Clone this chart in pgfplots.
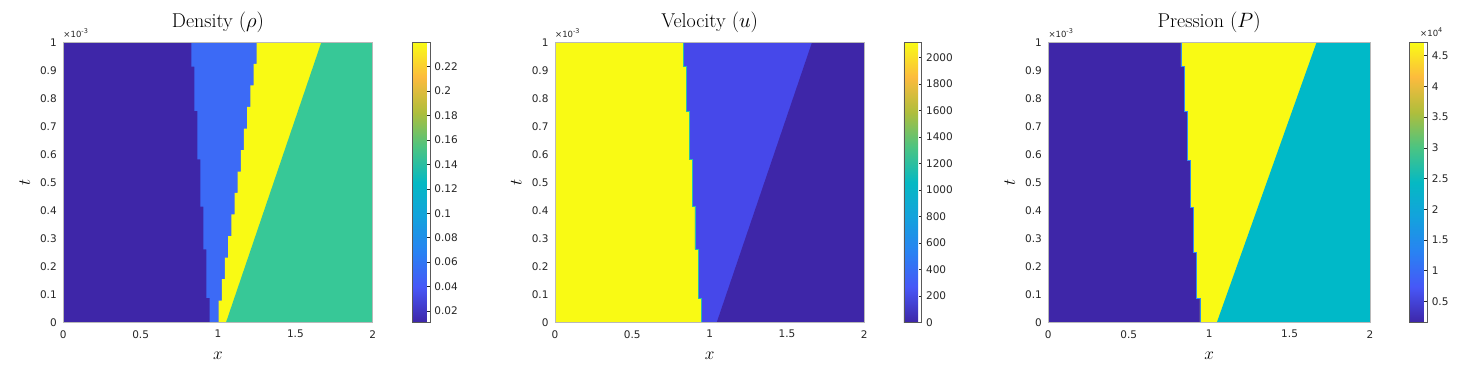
\documentclass[border=0pt]{standalone}
\usepackage{fontspec}
\usepackage{pgfplots}
\pgfplotsset{compat=1.18}
\newfontfamily\dejavu{DejaVu Sans}
\definecolor{pdark}{RGB}{62,38,168}
\definecolor{pdblue}{RGB}{60,106,246}
\definecolor{pvblue}{RGB}{70,72,234}
\definecolor{pyellow}{RGB}{249,250,20}
\definecolor{pgreen}{RGB}{55,200,151}
\definecolor{pcyan}{RGB}{0,185,200}
\definecolor{tickgray}{RGB}{38,38,38}
\definecolor{vline}{RGB}{40,190,170}
\definecolor{pline}{RGB}{50,140,240}
\pgfplotsset{
  colormap={parula}{rgb255=(62,38,168) rgb255=(71,87,247) rgb255=(41,130,243) rgb255=(19,162,221) rgb255=(5,185,195) rgb255=(75,196,130) rgb255=(175,190,60) rgb255=(252,187,61) rgb255=(249,251,21)},
  myaxis/.style={
    scale only axis, height=280pt,
    xmin=0, xmax=2, ymin=0, ymax=1,
    axis on top, clip=false,
    xtick={0,0.5,1,1.5,2}, xticklabels={0,0.5,1,1.5,2},
    ytick={0,0.1,0.2,0.3,0.4,0.5,0.6,0.7,0.8,0.9,1},
    yticklabels={0,0.1,0.2,0.3,0.4,0.5,0.6,0.7,0.8,0.9,1},
    major tick length=0pt,
    tick label style={font=\dejavu\fontsize{10.5}{12}\selectfont, text=tickgray},
    yticklabel style={xshift=-3pt},
    xticklabel style={yshift=-4.5pt},
    axis line style={draw=gray!55, line width=0.5pt},
    title style={at={(axis description cs:0.5,1)}, anchor=base, yshift=9pt, font=\fontsize{20}{22}\selectfont},
    xlabel style={at={(axis description cs:0.5,0)}, anchor=base, yshift=-37.5pt, font=\fontsize{17.5}{19}\selectfont},
    ylabel style={anchor=base, font=\fontsize{17.5}{19}\selectfont},
    colorbar,
    colorbar style={
      at={(parent axis.north east)}, anchor=north west, xshift=31pt,
      width=17.7pt,
      ytick pos=right, yticklabel pos=right,
      tick align=inside, major tick length=3pt,
      tick style={draw=tickgray, line width=0.4pt},
      axis line style={draw=gray!70!black, line width=0.5pt},
      yticklabel style={font=\dejavu\fontsize{10.5}{12}\selectfont, text=tickgray, xshift=1pt},
      scaled y ticks=false,
    },
  },
}
\newcommand{\texp}{\node[anchor=base west, inner sep=0pt, text=tickgray] at (axis description cs:0,1) [yshift=5pt] {\dejavu\fontsize{8.5}{9}\selectfont ×10\raisebox{3.6pt}{\fontsize{6.5}{7}\selectfont -3}};
\draw[gray!40!black, line width=0.6pt] (rel axis cs:0,0) -- (rel axis cs:1,0);}
\begin{document}
\begin{tikzpicture}
\useasboundingbox (-63.3pt,-52.7pt) rectangle (1396.7pt,322.3pt);
% ---------------- Density ----------------
\begin{axis}[myaxis, at={(0pt,0pt)}, anchor=south west, width=309.4pt,
  title={Density $(\rho)$}, xlabel={$x$}, ylabel={$t$},
  ylabel style={at={(axis description cs:-0.1076,0.5)}},
  point meta min=0.0107, point meta max=0.2399,
  colorbar style={ytick={0.02,0.04,0.06,0.08,0.1,0.12,0.14,0.16,0.18,0.2,0.22},
    yticklabels={0.02,0.04,0.06,0.08,0.1,0.12,0.14,0.16,0.18,0.2,0.22}}]
\addplot[fill=pdark, draw=none] coordinates {(0,0)(0,1)(2,1)(2,0)};
\addplot[fill=pdblue, draw=none] coordinates {(0.946,0)(0.946,0.087)(0.925,0.087)(0.925,0.26)(0.905,0.26)(0.905,0.413)(0.886,0.413)(0.886,0.582)(0.867,0.582)(0.867,0.755)(0.848,0.755)(0.848,0.913)(0.828,0.913)(0.828,1)(2,1)(2,0)};
\addplot[fill=pyellow, draw=none] coordinates {(1.004,0)(1.004,0.077)(1.025,0.077)(1.025,0.154)(1.045,0.154)(1.045,0.231)(1.066,0.231)(1.066,0.308)(1.086,0.308)(1.086,0.385)(1.107,0.385)(1.107,0.462)(1.127,0.462)(1.127,0.538)(1.148,0.538)(1.148,0.615)(1.168,0.615)(1.168,0.692)(1.189,0.692)(1.189,0.769)(1.209,0.769)(1.209,0.846)(1.230,0.846)(1.230,0.923)(1.250,0.923)(1.250,1)(2,1)(2,0)};
\addplot[fill=pgreen, draw=none] coordinates {(1.052,0)(1.668,1)(2,1)(2,0)};
\texp
\end{axis}
% ---------------- Velocity ----------------
\begin{axis}[myaxis, at={(491.7pt,0pt)}, anchor=south west, width=309.3pt,
  title={Velocity $(u)$}, xlabel={$x$}, ylabel={$t$},
  ylabel style={at={(axis description cs:-0.1076,0.5)}},
  point meta min=0, point meta max=2115,
  colorbar style={ytick={0,200,400,600,800,1000,1200,1400,1600,1800,2000},
    yticklabels={0,200,400,600,800,1000,1200,1400,1600,1800,2000}}]
\addplot[fill=pyellow, draw=none] coordinates {(0,0)(0,1)(2,1)(2,0)};
\addplot[fill=pvblue, draw=none] coordinates {(0.946,0)(0.946,0.087)(0.925,0.087)(0.925,0.26)(0.905,0.26)(0.905,0.413)(0.886,0.413)(0.886,0.582)(0.867,0.582)(0.867,0.755)(0.848,0.755)(0.848,0.913)(0.828,0.913)(0.828,1)(2,1)(2,0)};
\addplot[draw=vline, line width=0.6pt] coordinates {(0.946,0)(0.946,0.087)(0.925,0.087)(0.925,0.26)(0.905,0.26)(0.905,0.413)(0.886,0.413)(0.886,0.582)(0.867,0.582)(0.867,0.755)(0.848,0.755)(0.848,0.913)(0.828,0.913)(0.828,1)};
\addplot[fill=pdark, draw=none] coordinates {(1.046,0)(1.662,1)(2,1)(2,0)};
\texp
\end{axis}
% ---------------- Pressure ----------------
\begin{axis}[myaxis, at={(985pt,0pt)}, anchor=south west, width=321.7pt,
  title={Pression $(P)$}, xlabel={$x$}, ylabel={$t$},
  ylabel style={at={(axis description cs:-0.1035,0.5)}},
  point meta min=0.157, point meta max=4.718,
  colorbar style={ytick={0.5,1,1.5,2,2.5,3,3.5,4,4.5},
    yticklabels={0.5,1,1.5,2,2.5,3,3.5,4,4.5}}]
\addplot[fill=pdark, draw=none] coordinates {(0,0)(0,1)(2,1)(2,0)};
\addplot[fill=pyellow, draw=none] coordinates {(0.943,0)(0.943,0.087)(0.922,0.087)(0.922,0.25)(0.902,0.25)(0.902,0.41)(0.884,0.41)(0.884,0.58)(0.865,0.58)(0.865,0.752)(0.845,0.752)(0.845,0.913)(0.824,0.913)(0.824,1)(2,1)(2,0)};
\addplot[draw=pline, line width=0.6pt] coordinates {(0.943,0)(0.943,0.087)(0.922,0.087)(0.922,0.25)(0.902,0.25)(0.902,0.41)(0.884,0.41)(0.884,0.58)(0.865,0.58)(0.865,0.752)(0.845,0.752)(0.845,0.913)(0.824,0.913)(0.824,1)};
\addplot[fill=pcyan, draw=none] coordinates {(1.048,0)(1.668,1)(2,1)(2,0)};
\texp
\node[anchor=base west, inner sep=0pt, text=tickgray] at (axis description cs:1.1555,1) [yshift=6pt] {\dejavu\fontsize{8.5}{9}\selectfont ×10\raisebox{3.6pt}{\fontsize{6.5}{7}\selectfont 4}};
\end{axis}
\end{tikzpicture}
\end{document}
